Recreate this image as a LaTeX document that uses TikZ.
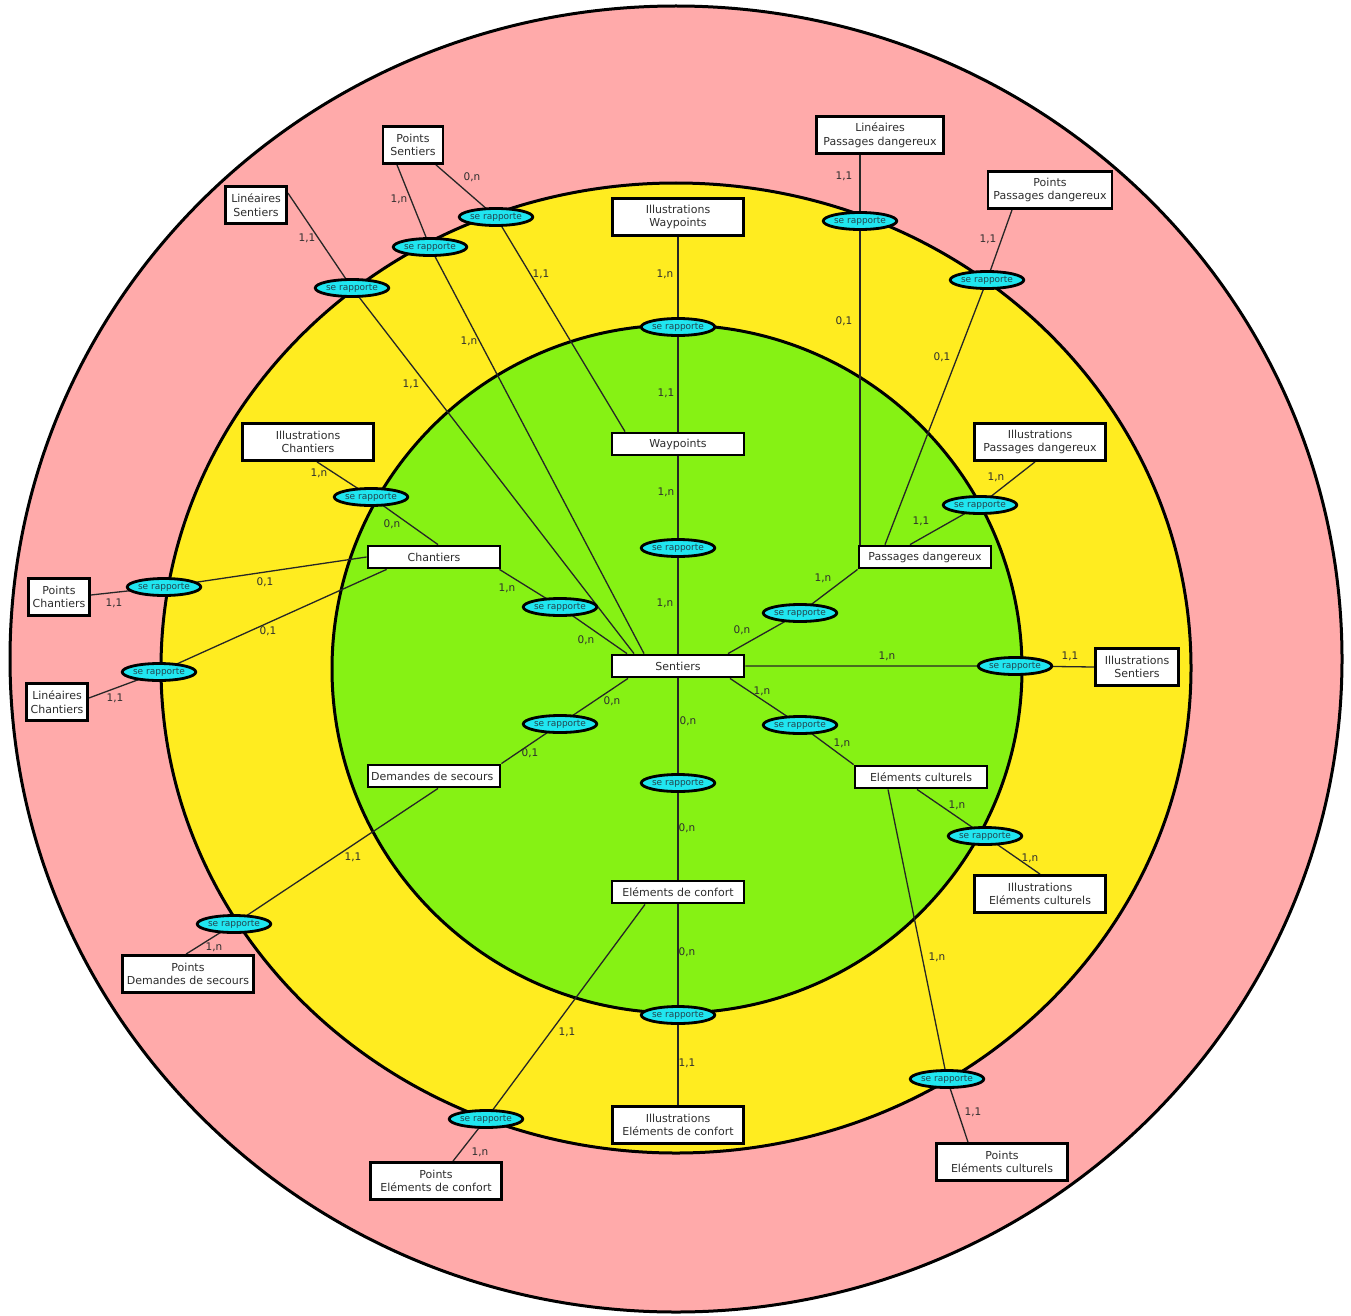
\documentclass[tikz,border=0pt]{standalone}
\usepackage{fontspec}
\setmainfont{DejaVu Sans}
\usetikzlibrary{shapes.geometric}

\definecolor{rose}{RGB}{255,170,170}
\definecolor{jaune}{RGB}{255,236,32}
\definecolor{vert}{RGB}{134,242,20}
\definecolor{cyanrel}{RGB}{32,230,240}
\definecolor{texte}{RGB}{45,45,45}
\definecolor{texterel}{RGB}{35,70,80}

\pgfdeclarelayer{fond}
\pgfdeclarelayer{liens}
\pgfsetlayers{fond,liens,main}

\tikzset{
  cercle/.style={draw=black, line width=3pt},
  entite/.style={draw=black, line width=2.8pt, fill=white, text=texte,
    inner xsep=3pt, inner ysep=3pt, minimum height=22pt, align=center,
    font=\fontsize{11}{13.5}\selectfont},
  relation/.style={ellipse, draw=black, line width=2.8pt, fill=cyanrel,
    text=texterel, inner sep=0pt, minimum width=72pt, minimum height=17pt,
    font=\fontsize{9}{10}\selectfont},
  card/.style={inner sep=0pt, text=texte, font=\fontsize{10.5}{12}\selectfont},
  lien/.style={draw=black!85, line width=1.3pt},
}

\begin{document}
\begin{tikzpicture}[x=1pt,y=-1pt]
  \useasboundingbox (0,0) rectangle (1351,1316);

  % Cercles
  \begin{pgfonlayer}{fond}
    \fill[white] (0,0) rectangle (1351,1316);
    \filldraw[cercle, fill=rose] (676,659) ellipse [x radius=666pt, y radius=653pt];
    \filldraw[cercle, fill=jaune] (676,668) ellipse [x radius=515pt, y radius=485pt];
    \filldraw[cercle, fill=vert] (677,669) ellipse [x radius=345pt, y radius=344pt];
  \end{pgfonlayer}

  % Entites sur une ligne
  \foreach \n/\x/\y/\t in {
      sent/678/666/Sentiers,
      wp/678/444/Waypoints,
      chan/434/557/Chantiers,
      pd/925/557/Passages dangereux,
      ec/921/777/Eléments culturels,
      conf/678/892/Eléments de confort,
      ds/434/776/Demandes de secours
    } {
    \node[entite, minimum width=132pt] (\n) at (\x,\y) {\t};
  }

  % Entites sur deux lignes
  \foreach \n/\x/\y/\w/\ta/\tb in {
      iwp/678/217/131/Illustrations/Waypoints,
      ichan/308/442/131/Illustrations/Chantiers,
      pchan/59/597/61/Points/Chantiers,
      lchan/57/702/61/Linéaires/Chantiers,
      psent/413/145/60/Points/Sentiers,
      lsent/256/205/61/Linéaires/Sentiers,
      lpd/880/135/127/Linéaires/Passages dangereux,
      ppd/1050/190/124/Points/Passages dangereux,
      ipd/1040/442/131/Illustrations/Passages dangereux,
      isent/1137/667/83/Illustrations/Sentiers,
      iec/1040/894/131/Illustrations/Eléments culturels,
      pec/1002/1162/131/Points/Eléments culturels,
      iconf/678/1125/131/Illustrations/Eléments de confort,
      pconf/436/1181/131/Points/Eléments de confort,
      pds/188/974/131/Points/Demandes de secours
    } {
    \node[entite, minimum width=\w pt, minimum height=37pt] (\n) at (\x,\y) {\ta\\\tb};
  }

  % Relations
  \foreach \n/\x/\y in {
      lsent/352/288, psent/430/247, pswp/496/217,
      iwp/678/327, wp/678/548,
      lpd/860/221, ppd/987/280, ipd/980/505, pd/800/613,
      isent/1015/666, ec/800/725, iec/985/836, pec/947/1079,
      conf/678/783, iconf/678/1015, pconf/486/1119,
      ds/560/724, pds/234/924,
      chan/560/607, ichan/371/497, pchan/164/587, lchan/159/672
    } {
    \node[relation] (r-\n) at (\x,\y) {se rapporte};
  }

  % Liens
  \begin{pgfonlayer}{liens}
    \draw[lien] ([yshift=12pt]lsent.east) -- (r-lsent.center) -- ([xshift=-44pt]sent.north);
    \draw[lien] ([xshift=-16pt]psent.south) -- (r-psent.center) -- ([xshift=-34pt]sent.north);
    \draw[lien] ([xshift=23pt]psent.south) -- (r-pswp.center) -- ([xshift=-53pt]wp.north);
    \draw[lien] (iwp) -- (r-iwp.center) -- (wp);
    \draw[lien] (wp) -- (r-wp.center) -- (sent);
    \draw[lien] ([xshift=-20pt]lpd.south) -- (r-lpd.center) -- ([xshift=-65pt]pd.north);
    \draw[lien] ([xshift=-38pt]ppd.south) -- (r-ppd.center) -- ([xshift=-40pt]pd.north);
    \draw[lien] ([xshift=-5pt]ipd.south) -- (r-ipd.center) -- ([xshift=-15pt]pd.north);
    \draw[lien] (pd.south west) -- (r-pd.center) -- ([xshift=50pt]sent.north);
    \draw[lien] (sent.east) -- (r-isent.center) -- (isent.west);
    \draw[lien] ([xshift=52pt]sent.south) -- (r-ec.center) -- (ec.north west);
    \draw[lien] ([xshift=-4pt]ec.south) -- (r-iec.center) -- (iec.north);
    \draw[lien] ([xshift=-33pt]ec.south) -- (r-pec.center) -- ([xshift=-34pt]pec.north);
    \draw[lien] (sent) -- (r-conf.center) -- (conf);
    \draw[lien] (conf) -- (r-iconf.center) -- (iconf);
    \draw[lien] ([xshift=-33pt]conf.south) -- (r-pconf.center) -- ([xshift=17pt]pconf.north);
    \draw[lien] ([xshift=-50pt]sent.south) -- (r-ds.center) -- (ds.north east);
    \draw[lien] ([xshift=4pt]ds.south) -- (r-pds.center) -- ([xshift=-2pt]pds.north);
    \draw[lien] ([xshift=-2pt]chan.south east) -- (r-chan.center) -- ([xshift=-51pt]sent.north);
    \draw[lien] ([xshift=9pt]ichan.south) -- (r-ichan.center) -- ([xshift=4pt]chan.north);
    \draw[lien] ([yshift=2pt]pchan.east) -- (r-pchan.center) -- (chan.west);
    \draw[lien] ([yshift=4pt]lchan.east) -- (r-lchan.center) -- ([xshift=20pt]chan.south west);
  \end{pgfonlayer}

  % Cardinalites
  \foreach \x/\y/\t [count=\i] in {
      472/177/{0,n}, 399/199/{1,n}, 307/238/{1,1}, 541/274/{1,1},
      469/341/{1,n}, 411/384/{1,1}, 665/274/{1,n}, 666/393/{1,1},
      666/492/{1,n}, 665/603/{1,n}, 844/176/{1,1}, 844/321/{0,1},
      988/239/{1,1}, 942/357/{0,1}, 996/477/{1,n}, 921/521/{1,1},
      823/578/{1,n}, 742/630/{0,n}, 887/656/{1,n}, 1070/656/{1,1},
      762/691/{1,n}, 842/743/{1,n}, 957/805/{1,n}, 1030/858/{1,n},
      937/957/{1,n}, 973/1112/{1,1}, 688/721/{0,n}, 687/828/{0,n},
      687/952/{0,n}, 687/1063/{1,1}, 567/1032/{1,1}, 480/1152/{1,n},
      612/701/{0,n}, 530/753/{0,1}, 353/857/{1,1}, 214/947/{1,n},
      507/588/{1,n}, 586/640/{0,n}, 319/473/{1,n}, 392/524/{0,n},
      114/603/{1,1}, 265/582/{0,1}, 115/698/{1,1}, 268/631/{0,1}
    } {
    \node[card] (c\i) at (\x,\y) {\t};
  }
\end{tikzpicture}
\end{document}
